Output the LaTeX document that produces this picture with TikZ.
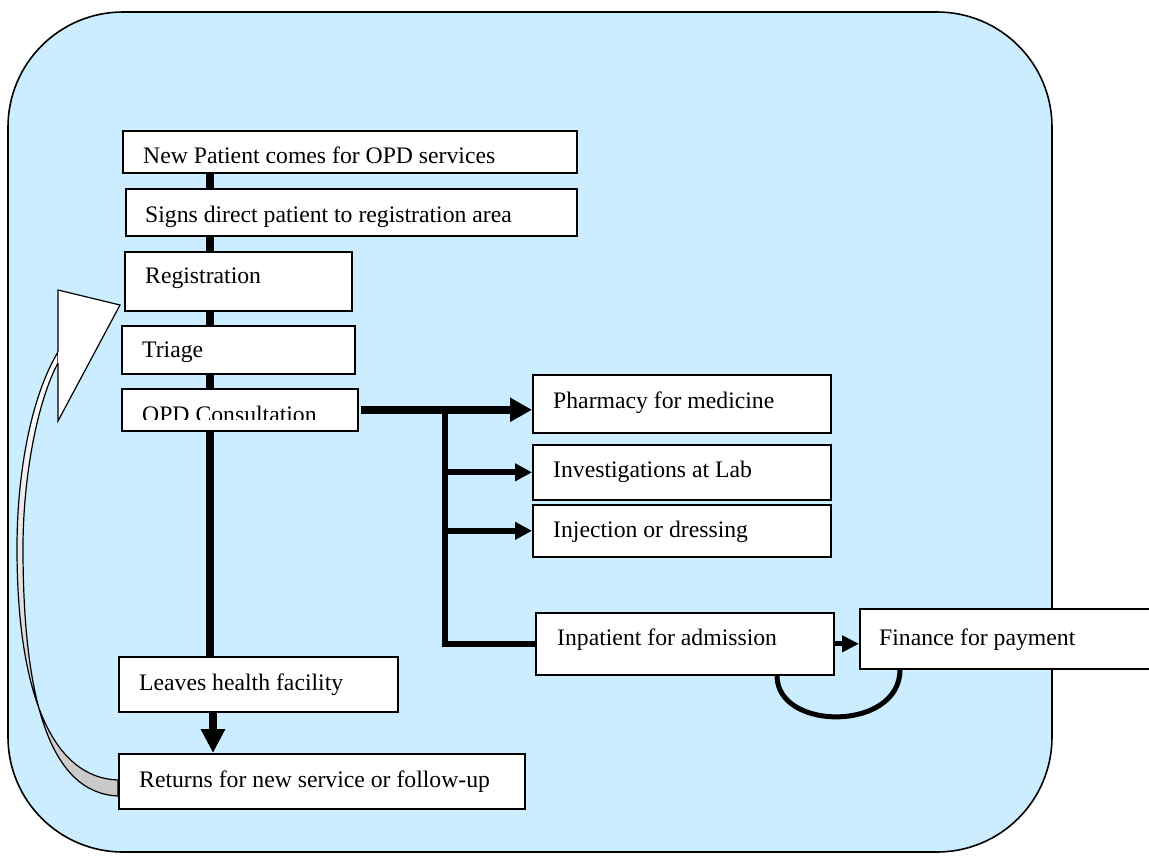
\documentclass[tikz,border=0pt]{standalone}
\usepackage{fontspec}
\setmainfont{Liberation Serif}
\usetikzlibrary{arrows.meta,calc}
\definecolor{bgblue}{RGB}{204,236,255}
\definecolor{bandgray}{RGB}{200,200,200}
\begin{document}
\begin{tikzpicture}[x=1pt,y=-1pt,
  box/.style={draw=black,line width=1.6pt,fill=white,anchor=north west,inner sep=0pt},
  txt/.style={anchor=base west,inner sep=0pt,font=\fontsize{23.7}{28}\selectfont},
  spineline/.style={line width=8pt},
  bigarrow/.style={line width=8pt,-{Triangle[length=22pt,width=23pt]}},
  branchline/.style={line width=6.5pt},
  brancharrow/.style={line width=6pt,-{Triangle[length=17pt,width=17pt]}},
  smallarrow/.style={line width=5pt,-{Triangle[length=17pt,width=16pt]}},
  loopline/.style={line width=5pt},
  blockarrow/.style={draw=black,line width=1.2pt,line join=miter}]
\useasboundingbox (0,0) rectangle (1149,855);
% background
\path[fill=bgblue,draw=black,line width=1.6pt,rounded corners=115pt] (8,12) rectangle (1052,852);

% curved return block arrow (shaft)
\path[blockarrow,top color=white,middle color=white,bottom color=bandgray]
  (58,352) .. controls (32,395) and (17,470) .. (17,548)
  .. controls (17,700) and (55,778) .. (118,780) -- (118,796)
  .. controls (50,793) and (23,700) .. (23,548)
  .. controls (23,475) and (38,400) .. (58,363) -- cycle;
% arrow head
\filldraw[blockarrow,fill=white] (58,363) -- (58,421) -- (120,305) -- (58,290) -- (58,352);

% boxes
\node[box,minimum width=454pt,minimum height=42pt] (b1) at (122,130) {};
\node[box,minimum width=451pt,minimum height=47pt] (b2) at (125,188) {};
\node[box,minimum width=227pt,minimum height=59pt] (b3) at (124,251) {};
\node[box,minimum width=233pt,minimum height=48pt] (b4) at (121,325) {};
\node[box,minimum width=236pt,minimum height=42pt] (b5) at (121,388) {};
\node[box,minimum width=279pt,minimum height=55pt] (leave) at (118,656) {};
\node[box,minimum width=406pt,minimum height=55pt] (ret) at (118,753) {};
\node[box,minimum width=298pt,minimum height=58pt] (pharm) at (532,374) {};
\node[box,minimum width=298pt,minimum height=55pt] (inv) at (532,444) {};
\node[box,minimum width=298pt,minimum height=52pt] (inj) at (532,504) {};
\node[box,minimum width=298pt,minimum height=62pt] (inpat) at (535,612) {};
\node[box,minimum width=300pt,minimum height=60pt] (fin) at (859,608) {};

% texts
\node[txt] (t1) at (143,163) {New Patient comes for OPD services};
\node[txt] (t2) at (145,222) {Signs direct patient to registration area};
\node[txt] (t3) at (145,283) {Registration};
\node[txt] (t4) at (142,357) {Triage};
\begin{scope}
  \clip (121,388) rectangle (357,419);
  \node[txt] (t5) at (142,422) {OPD Consultation};
\end{scope}
\node[txt] (t6) at (139,690) {Leaves health facility};
\node[txt] (t7) at (139,787) {Returns for new service or follow-up};
\node[txt] (t8) at (553,408) {Pharmacy for medicine};
\node[txt] (t9) at (553,477) {Investigations at Lab};
\node[txt] (t10) at (553,537) {Injection or dressing};
\node[txt] (t11) at (557,645) {Inpatient for admission};
\node[txt] (t12) at (879,645) {Finance for payment};

% spine connectors
\coordinate (spine) at (210,0);
\coordinate (spine2) at (213,0);
\draw[spineline] (b1.south -| spine) -- (b2.north -| spine);
\draw[spineline] (b2.south -| spine) -- (b3.north -| spine);
\draw[spineline] (b3.south -| spine) -- (b4.north -| spine);
\draw[spineline] (b4.south -| spine) -- (b5.north -| spine);
\draw[spineline] (b5.south -| spine) -- (leave.north -| spine);
\draw[bigarrow,-{Triangle[length=24pt,width=23pt]}] (leave.south -| spine2) -- (ret.north -| spine2);

% right branch
\coordinate (jn) at (445,0);
\draw[bigarrow] ($(b5.east)+(2,0)$) -- (b5.east -| pharm.west);
\draw[branchline] (b5.east -| jn) |- (inpat.west);
\draw[brancharrow] (inv.west -| jn) -- (inv.west);
\draw[brancharrow] (inj.west -| jn) -- (inj.west);
\draw[smallarrow] (inpat.east) -- (inpat.east -| fin.west);
\draw[loopline] ($(inpat.south west)+(242,0)$) .. controls +(0,56) and +(0,62) .. ($(fin.south west)+(41,0)$);
\end{tikzpicture}
\end{document}
